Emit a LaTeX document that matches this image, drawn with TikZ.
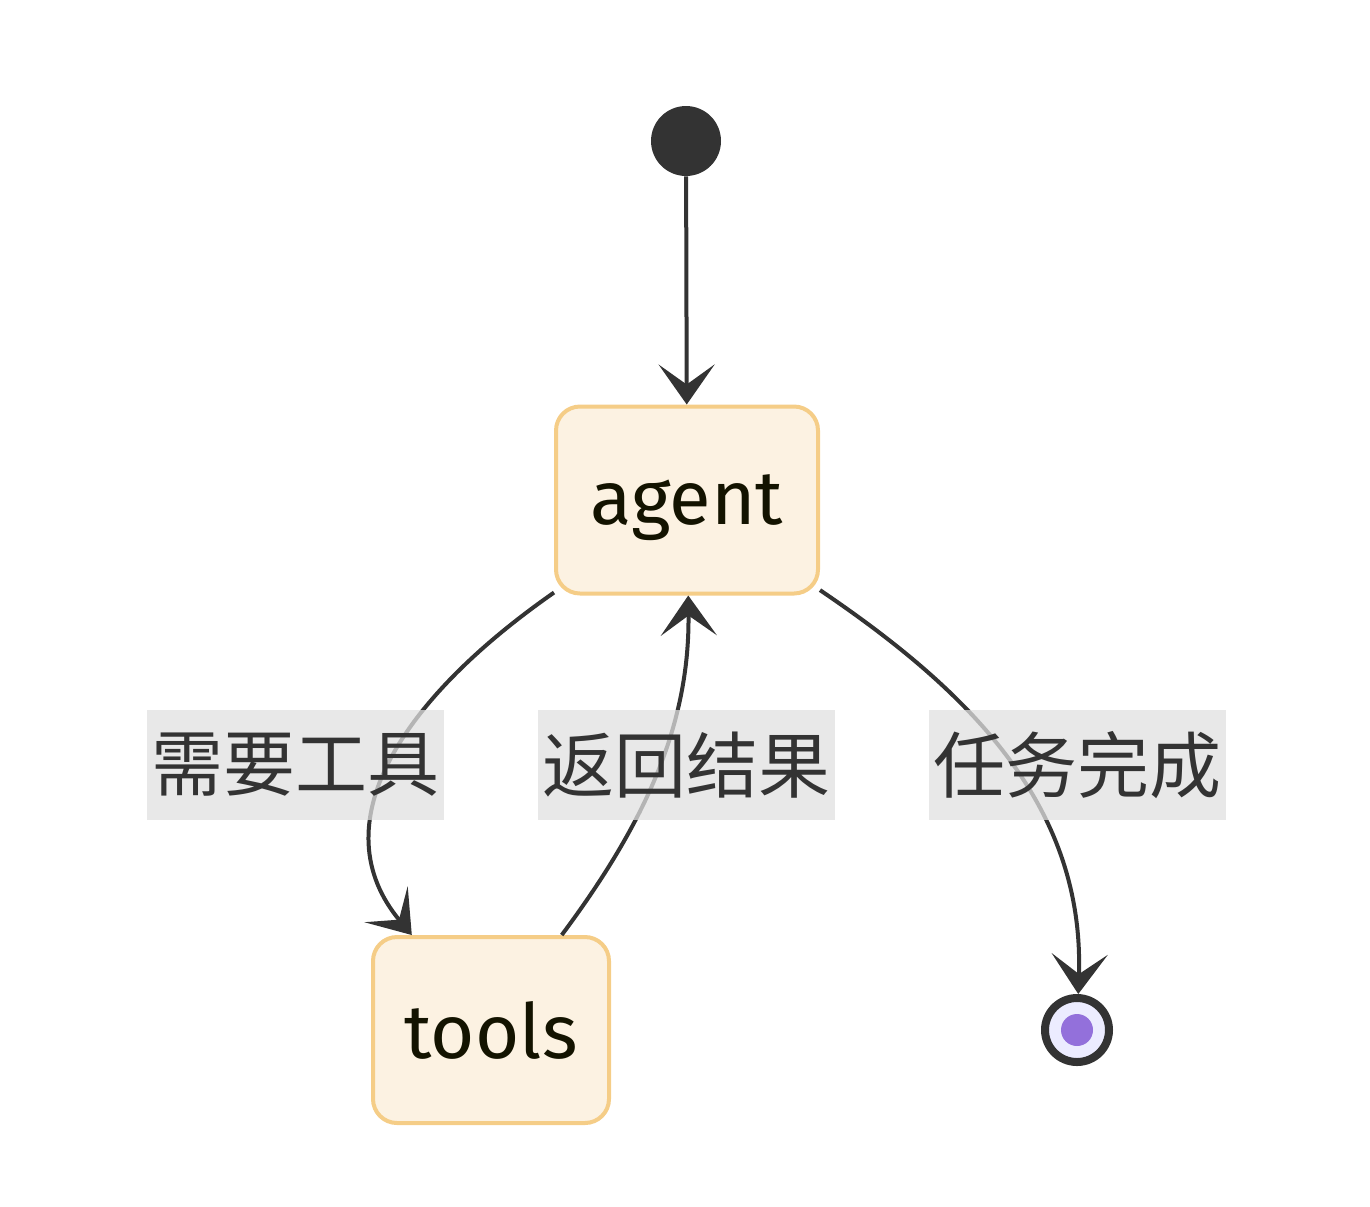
\documentclass[tikz,border=0pt]{standalone}
\usepackage{fontspec}
\setmainfont{Fira Sans}
\newfontfamily\cjk{Noto Sans CJK SC}
\usetikzlibrary{arrows.meta}
\definecolor{boxline}{HTML}{F5CD87}
\definecolor{boxfill}{HTML}{FCF2E2}
\definecolor{boxtext}{HTML}{131300}
\definecolor{edge}{HTML}{333333}
\definecolor{lblfill}{HTML}{E0E0E0}
\definecolor{endfill}{HTML}{ECECFF}
\definecolor{enddot}{HTML}{9370DB}

\begin{document}
\begin{tikzpicture}[x=0.5pt,y=-0.5pt,
    state/.style={draw=boxline,fill=boxfill,line width=2pt,rounded corners=12pt,
      text=boxtext,font=\fontsize{38}{44}\selectfont,inner sep=0pt,text depth=0pt},
    lbl/.style={fill=lblfill,fill opacity=0.75,text opacity=1,text=edge,inner sep=0pt,
      minimum width=148.5pt,minimum height=55pt,font=\cjk\fontsize{36}{40}\selectfont},
    trans/.style={draw=edge,line width=2pt,-{Stealth[length=20pt,width=28pt,inset=10pt]}}]
    \useasboundingbox (0,0) rectangle (1370,1206);
    \node[circle,fill=edge,minimum size=35pt,inner sep=0pt] (start) at (686,141) {};
    \node[state,minimum width=131pt,minimum height=93.5pt] (agent) at (687,500) {agent};
    \node[state,minimum width=118pt,minimum height=93pt] (tools) at (491,1030) {tools};
    \node[circle,draw=edge,fill=endfill,line width=4pt,minimum size=32pt,inner sep=0pt] (end) at (1077,1030) {};
    \node[circle,fill=enddot,minimum size=16pt,inner sep=0pt] (enddot) at (end.center) {};
    \draw[trans] (start) -- (agent);
    \draw[trans] (agent) .. controls (400,700) and (320,825) .. (tools);
    \draw[trans] (tools) .. controls (640,830) and (690,730) .. (agent);
    \draw[trans] (agent) .. controls (960,685) and (1085,800) .. (end);
    \node[lbl] (need) at (295.5,765) {需要工具};
    \node[lbl] (back) at (686.5,765) {返回结果};
    \node[lbl] (done) at (1077.5,765) {任务完成};
\end{tikzpicture}
\end{document}
